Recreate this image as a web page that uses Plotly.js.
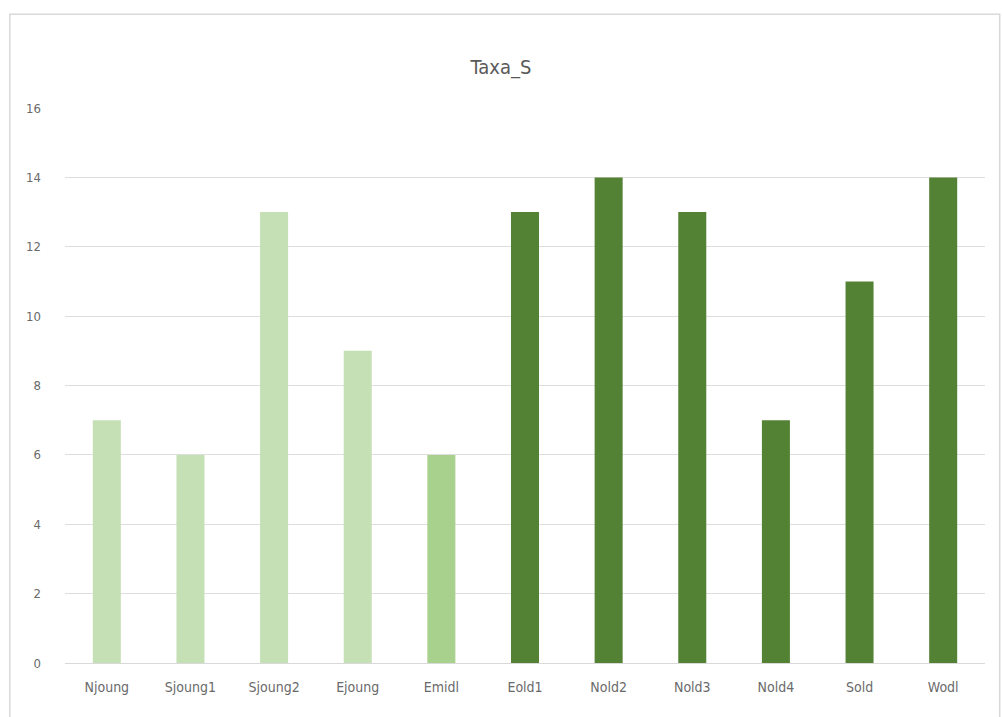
<!DOCTYPE html>
<html>
<head>
<meta charset="utf-8">
<script src="https://cdn.plot.ly/plotly-3.0.1.min.js"></script>
<style>html,body{margin:0;padding:0;background:#fff;}#chart{width:1002px;height:717px;}</style>
</head>
<body>
<div id="chart"></div>
<script>
const categories = ["Njoung","Sjoung1","Sjoung2","Ejoung","Emidl","Eold1","Nold2","Nold3","Nold4","Sold","Wodl"];
const taxaS = [7,6,13,9,6,13,14,13,7,11,14];
const yTicks = [0,2,4,6,8,10,12,14,16];

const barColors = ["#c5e0b4","#c5e0b4","#c5e0b4","#c5e0b4","#a9d18e","#548235","#548235","#548235","#548235","#548235","#548235"];
const fontFam = "'Liberation Sans Narrow', 'DejaVu Sans Condensed', 'Open Sans', Roboto, sans-serif";

Plotly.newPlot('chart', [{
  type: 'bar',
  x: categories,
  y: taxaS,
  marker: {color: barColors, line: {width: 0}},
  hoverinfo: 'x+y'
}], {
  width: 1002, height: 717,
  margin: {l: 65, r: 17, t: 108, b: 54},
  paper_bgcolor: '#ffffff', plot_bgcolor: '#ffffff',
  bargap: 0.665,
  showlegend: false,
  title: {text: 'Taxa_S', x: 0.5, xanchor: 'center', y: 1 - 67/717, yanchor: 'middle',
          font: {family: fontFam, size: 20, color: '#595959'}},
  xaxis: {type: 'category', tickfont: {family: fontFam, size: 14, color: '#6a6a6a'},
          showgrid: false, zeroline: false, showline: true, linecolor: '#d9d9d9', linewidth: 1,
          ticks: '', ticklen: 0, ticklabelstandoff: 11},
  yaxis: {range: [0, 16], tickvals: yTicks, ticktext: yTicks.map(String),
          tickfont: {family: fontFam, size: 13, color: '#6a6a6a'},
          showgrid: true, gridcolor: '#dedede', gridwidth: 1, zeroline: false,
          showline: false, ticks: '', ticklabelstandoff: 23},
  shapes: [{type: 'rect', xref: 'paper', yref: 'paper',
            x0: -0.06, x1: 1.016, y0: -0.2, y1: 1.169,
            line: {color: '#d9d9d9', width: 1.5}, fillcolor: 'rgba(0,0,0,0)', layer: 'below'}]
}, {displayModeBar: false, staticPlot: true});
</script>
</body>
</html>
